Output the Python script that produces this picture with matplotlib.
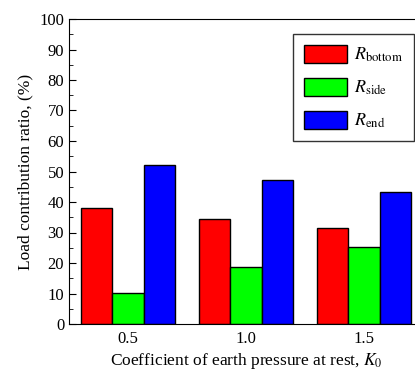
import numpy as np
import matplotlib
matplotlib.use("Agg")
import matplotlib.pyplot as plt

plt.rcParams['font.family'] = ['Liberation Serif', 'DejaVu Serif']
plt.rcParams['mathtext.fontset'] = 'stix'

# Data
k0 = [0.5, 1.0, 1.5]
k0_labels = ["0.5", "1.0", "1.5"]
r_bottom = [38.0, 34.4, 31.6]
r_side = [10.3, 18.6, 25.4]
r_end = [52.0, 47.1, 43.2]

series = [
    (r_bottom, "#ff0000", r"$R_{\mathrm{bottom}}$"),
    (r_side, "#00ff00", r"$R_{\mathrm{side}}$"),
    (r_end, "#0000ff", r"$R_{\mathrm{end}}$"),
]

fig = plt.figure(figsize=(4.15, 3.71), dpi=100)
ax = fig.add_axes([69 / 415, 1 - 324 / 371, (423 - 69) / 415, (324 - 19) / 371])

width = 0.4 / 3
x = np.array(k0)
for i, (vals, color, label) in enumerate(series):
    ax.bar(x + (i - 1) * width, vals, width, color=color, edgecolor="black",
           linewidth=1.0, label=label)

ax.set_xlim(0.25, 1.75)
ax.set_ylim(0, 100)
ax.set_xticks(k0)
ax.set_xticklabels(k0_labels)
ax.set_yticks(np.arange(0, 101, 10))
ax.set_yticks(np.arange(0, 101, 5), minor=True)
ax.tick_params(axis="both", which="both", direction="in", labelsize=12)
ax.tick_params(axis="x", length=0, pad=5)
ax.tick_params(axis="y", which="major", length=5)
ax.tick_params(axis="y", which="minor", length=3)

ax.set_xlabel(r"Coefficient of earth pressure at rest, $K_0$", fontsize=12.5, labelpad=3)
ax.set_ylabel("Load contribution ratio, (%)", fontsize=12.5, labelpad=4)

leg = ax.legend(loc="upper left", bbox_to_anchor=((293 - 69) / 354, 1 - (34 - 19) / 305),
                fontsize=13, frameon=True, fancybox=False, edgecolor="black",
                handlelength=2.4, handleheight=1.15, labelspacing=0.75,
                handletextpad=0.4, borderpad=0.6, borderaxespad=0)
leg.get_frame().set_linewidth(1.0)

fig.savefig("out.png", dpi=100)
